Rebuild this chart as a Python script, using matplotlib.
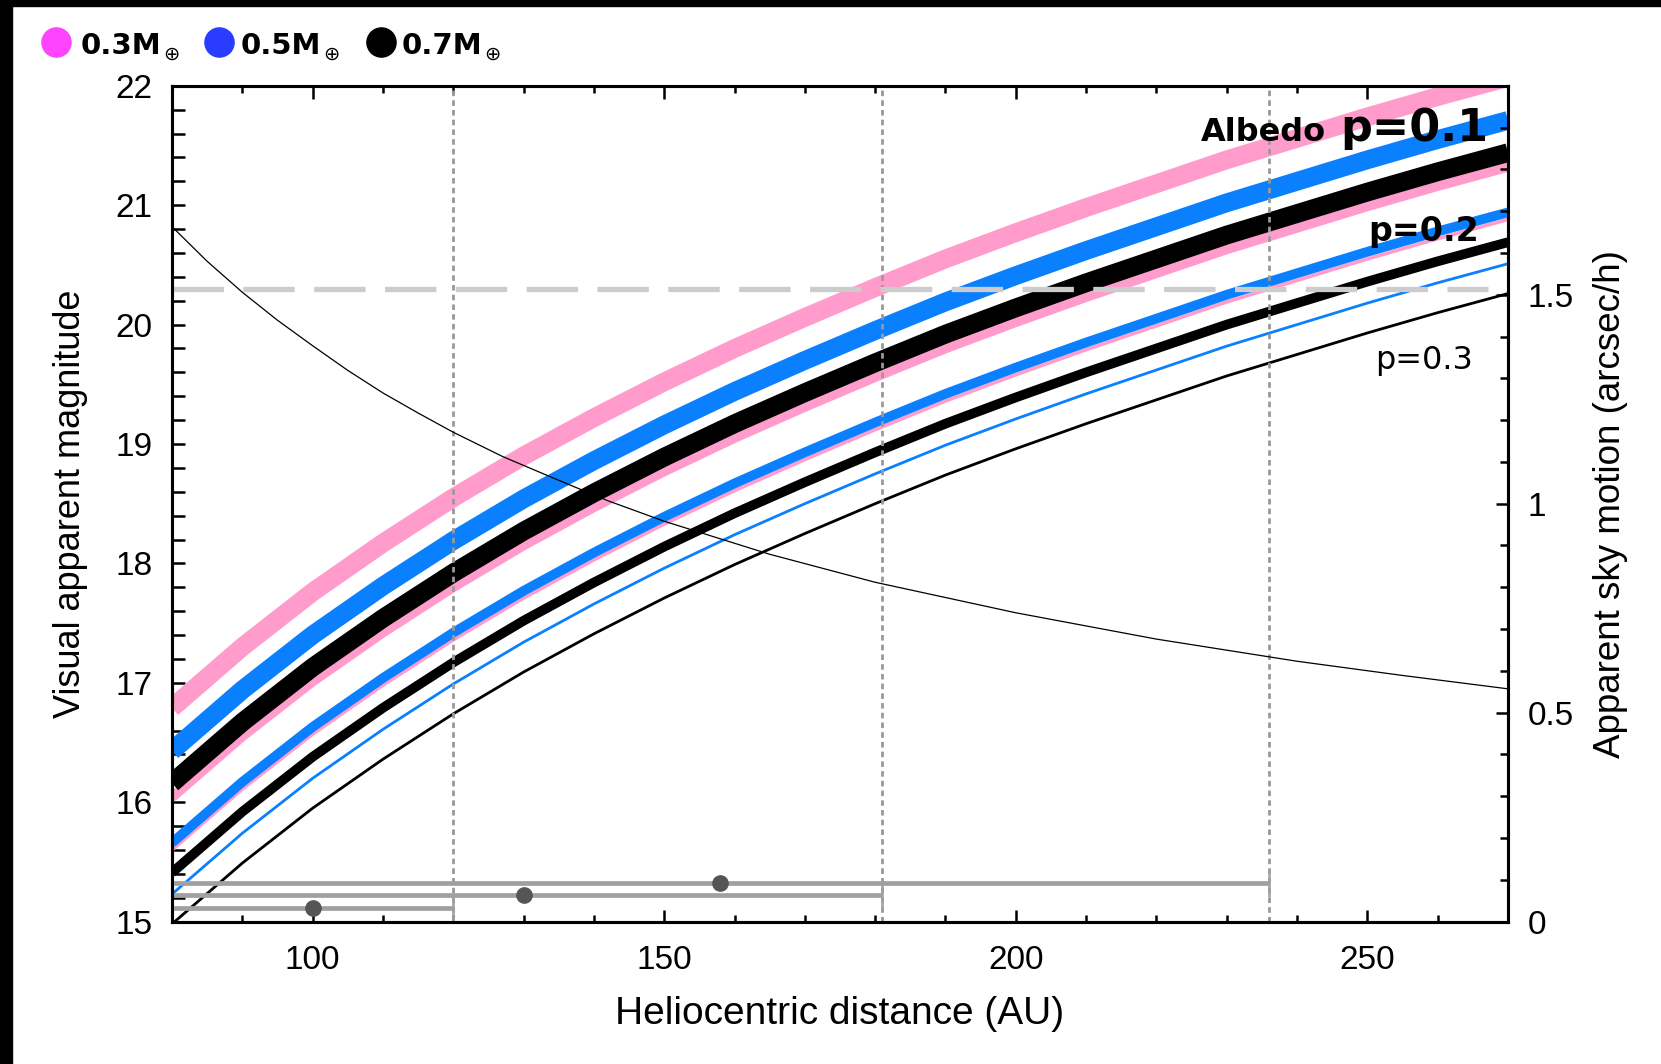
import matplotlib
matplotlib.use('Agg')
import matplotlib.pyplot as plt
from matplotlib.lines import Line2D
from matplotlib.patches import Rectangle
from matplotlib.ticker import MultipleLocator, FuncFormatter

plt.rcParams['font.family'] = ['Liberation Sans', 'DejaVu Sans']
plt.rcParams['lines.scale_dashes'] = False

# heliocentric distance (AU) where the magnitude curves were read
dist = [80, 90, 100, 110, 120, 130, 140, 150, 160, 170,
        180, 190, 200, 210, 220, 230, 240, 250, 260, 270]

# visual magnitude, albedo p=0.1
mag_03_p1 = [16.79, 17.30, 17.76, 18.17, 18.55, 18.90, 19.22, 19.52, 19.80, 20.06,
             20.31, 20.55, 20.77, 20.98, 21.18, 21.38, 21.56, 21.74, 21.91, 22.07]
mag_05_p1 = [16.43, 16.94, 17.40, 17.81, 18.19, 18.54, 18.86, 19.16, 19.44, 19.70,
             19.95, 20.19, 20.41, 20.62, 20.82, 21.02, 21.20, 21.38, 21.55, 21.71]
mag_07_p1 = [16.16, 16.67, 17.13, 17.54, 17.92, 18.27, 18.59, 18.89, 19.17, 19.43,
             19.68, 19.92, 20.14, 20.35, 20.55, 20.75, 20.93, 21.11, 21.28, 21.44]
# albedo p=0.2
mag_03_p2 = [16.04, 16.55, 17.01, 17.42, 17.80, 18.15, 18.47, 18.77, 19.05, 19.31,
             19.56, 19.80, 20.02, 20.23, 20.43, 20.63, 20.81, 20.99, 21.16, 21.32]
mag_05_p2 = [15.66, 16.17, 16.63, 17.04, 17.42, 17.77, 18.09, 18.39, 18.67, 18.93,
             19.18, 19.42, 19.64, 19.85, 20.05, 20.25, 20.43, 20.61, 20.78, 20.94]
mag_07_p2 = [15.41, 15.92, 16.38, 16.79, 17.17, 17.52, 17.84, 18.14, 18.42, 18.68,
             18.93, 19.17, 19.39, 19.60, 19.80, 20.00, 20.18, 20.36, 20.53, 20.69]
# albedo p=0.3
mag_03_p3 = [15.60, 16.11, 16.57, 16.98, 17.36, 17.71, 18.03, 18.33, 18.61, 18.87,
             19.12, 19.36, 19.58, 19.79, 19.99, 20.19, 20.37, 20.55, 20.72, 20.88]
mag_05_p3 = [15.23, 15.74, 16.20, 16.61, 16.99, 17.34, 17.66, 17.96, 18.24, 18.50,
             18.75, 18.99, 19.21, 19.42, 19.62, 19.82, 20.00, 20.18, 20.35, 20.51]
mag_07_p3 = [14.98, 15.49, 15.95, 16.36, 16.74, 17.09, 17.41, 17.71, 17.99, 18.25,
             18.50, 18.74, 18.96, 19.17, 19.37, 19.57, 19.75, 19.93, 20.10, 20.26]

# apparent sky motion (arcsec/h), right axis
motion_dist = [80, 85, 90, 95, 100, 105, 110, 115, 120, 127, 135, 142, 150,
               165, 180, 200, 220, 240, 255, 270]
motion = [1.663, 1.580, 1.506, 1.439, 1.378, 1.319, 1.265, 1.217, 1.171, 1.113,
          1.056, 1.007, 0.958, 0.879, 0.812, 0.739, 0.676, 0.623, 0.589, 0.557]

# distance ranges shown at the bottom
range_center = [100, 130, 158]
range_low = [80, 80, 80]
range_high = [120, 181, 236]
range_mag = [15.11, 15.22, 15.32]

limit_mag = 20.3

mass_labels = ['0.3M', '0.5M', '0.7M']
legend_colors = ['#ff44ff', '#2a3cff', 'black']
line_colors = ['#ff9ccc', '#0a80ff', 'black']

W, H = 1661, 1064
fig = plt.figure(figsize=(W / 100, H / 100), dpi=100)
# black edges of the original screenshot
fig.patches.append(Rectangle((0, 1 - 6 / H), 1, 6 / H, transform=fig.transFigure,
                             color='black', zorder=-5))
fig.patches.append(Rectangle((0, 0), 12 / W, 1, transform=fig.transFigure,
                             color='black', zorder=-5))

ax = fig.add_axes([172 / W, 1 - 921.6 / H, (1508 - 172) / W, (921.6 - 85.8) / H])

curves = [
    (mag_03_p1, mag_03_p2, mag_03_p3),
    (mag_05_p1, mag_05_p2, mag_05_p3),
    (mag_07_p1, mag_07_p2, mag_07_p3),
]
widths = [13.5, 7, 2.0]
for i, group in enumerate(curves):
    for j, mags in enumerate(group):
        lw = widths[j]
        if j == 2 and i == 0:
            lw = 2.6
        ax.plot(dist, mags, color=line_colors[i], lw=lw, solid_capstyle='butt',
                zorder=2 + i)

# dotted markers of the range ends
for xr in range_high:
    ax.axvline(xr, color='#999999', lw=2.0, dashes=(4, 3), zorder=6)

ax.axhline(limit_mag, color='#cccccc', lw=3.8, dashes=(37, 14), zorder=6,
           xmax=0.985)

ax.errorbar(range_center, range_mag,
            xerr=[[c - lo for c, lo in zip(range_center, range_low)],
                  [hi - c for c, hi in zip(range_center, range_high)]],
            fmt='o', color='#555555', ecolor='#a0a0a0', elinewidth=3.4,
            capsize=10, capthick=1.8, markersize=11, zorder=7, clip_on=False)

ax.set_xlim(80, 270)
ax.set_ylim(15, 22)
ax.xaxis.set_major_locator(MultipleLocator(50))
ax.xaxis.set_minor_locator(MultipleLocator(10))
ax.yaxis.set_major_locator(MultipleLocator(1))
ax.yaxis.set_minor_locator(MultipleLocator(0.2))
ax.tick_params(which='both', direction='in', top=True, right=False,
               labelsize=24, width=1.8)
ax.tick_params(axis='x', which='major', length=9, pad=17)
ax.tick_params(axis='x', which='minor', length=5)
ax.tick_params(axis='y', which='both', length=9, pad=14)
for s in ax.spines.values():
    s.set_linewidth(2.2)

ax.set_xlabel('Heliocentric distance (AU)', fontsize=28, labelpad=14)
ax.set_ylabel('Visual apparent magnitude', fontsize=26, labelpad=20)

ax2 = ax.twinx()
ax2.plot(motion_dist, motion, color='black', lw=0.9, zorder=3)
ax2.set_ylim(0, 2)
ax2.set_yticks([0, 0.5, 1, 1.5])
ax2.yaxis.set_minor_locator(MultipleLocator(0.1))
ax2.yaxis.set_major_formatter(FuncFormatter(lambda v, _: f'{v:g}'))
ax2.tick_params(which='both', direction='in', labelsize=24, width=1.8, pad=14)
ax2.tick_params(which='major', length=9)
ax2.tick_params(which='minor', length=6)
for s in ax2.spines.values():
    s.set_linewidth(2.2)
ax2.set_ylabel('Apparent sky motion (arcsec/h)', fontsize=26.5, labelpad=14)

# albedo annotations
ax.text(226.3, 21.54, 'Albedo', fontsize=23, fontweight='bold',
        family='DejaVu Sans', ha='left', va='baseline', zorder=10)
ax.text(246.2, 21.54, 'p=0.1', fontsize=32, fontweight='bold',
        family='DejaVu Sans', ha='left', va='baseline', zorder=10)
ax.text(250.1, 20.70, 'p=0.2', fontsize=24, fontweight='bold',
        family='DejaVu Sans', ha='left', va='baseline', zorder=10)
ax.text(251.1, 19.63, 'p=0.3', fontsize=23,
        family='DejaVu Sans', ha='left', va='baseline', zorder=10)

# mass legend on top
dot_x = [56, 219, 381]
text_x = [81, 241, 402]
dot_y = 1 - 42 / H
base_y = 1 - 54 / H
for lab, col, dx, tx in zip(mass_labels, legend_colors, dot_x, text_x):
    fig.add_artist(Line2D([dx / W], [dot_y], marker='o', markersize=21,
                          color=col, transform=fig.transFigure))
    t = fig.text(tx / W, base_y, lab, fontsize=21, fontweight='bold',
                 family='DejaVu Sans', ha='left', va='baseline')
    ax.annotate('\u2295', xy=(1, 0), xycoords=t, xytext=(1, 4),
                textcoords='offset points', fontsize=14, family='DejaVu Sans',
                ha='left', va='center', annotation_clip=False)

fig.savefig('out.png', dpi=100)
